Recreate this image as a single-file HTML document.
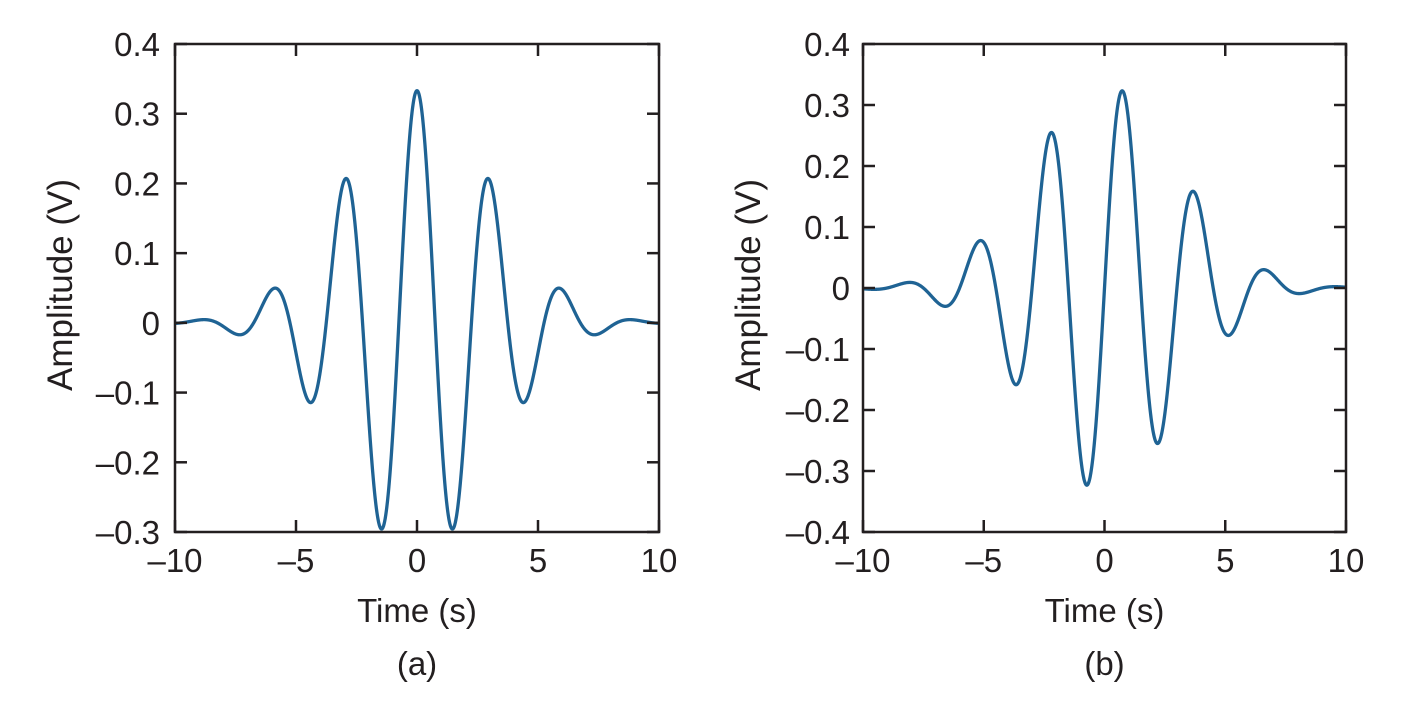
<!DOCTYPE html>
<html>
<head>
<meta charset="utf-8">
<style>
  html,body{margin:0;padding:0;background:#fff;}
  body{width:1403px;height:718px;overflow:hidden;}
  svg{display:block;}
  text{font-family:"Liberation Sans", Arial, sans-serif;fill:#231f20;}
</style>
</head>
<body>
<svg id="s" width="1403" height="718" viewBox="0 0 1403 718" xmlns="http://www.w3.org/2000/svg">
  <rect x="0" y="0" width="1403" height="718" fill="#fff"/>
  <g id="plots"></g>
</svg>
<script>
(function(){
  var NS="http://www.w3.org/2000/svg";
  var g=document.getElementById("plots");
  function el(tag,attrs,txt){
    var e=document.createElementNS(NS,tag);
    for(var k in attrs) e.setAttribute(k,attrs[k]);
    if(txt!==undefined) e.textContent=txt;
    g.appendChild(e); return e;
  }
  function fmt(v){
    if(Math.abs(v)<1e-9) return "0";
    var s=Math.abs(v).toFixed(1);
    return (v<0?"\u2013":"")+s;
  }
  function plot(o){
    var x0=o.x0,x1=o.x1,y0=o.y0,y1=o.y1;
    function X(t){return x0+(t+10)/20*(x1-x0);}
    function Y(v){return y0+(o.ymax-v)/(o.ymax-o.ymin)*(y1-y0);}
    var d="";
    for(var i=0;i<=2000;i++){
      var t=-10+20*i/2000;
      var v=o.f(t);
      d+=(i?"L":"M")+X(t).toFixed(2)+","+Y(v).toFixed(2);
    }
    el("path",{d:d,fill:"none",stroke:"#1f6394","stroke-width":"3.3","stroke-linejoin":"round"});
    var tl=12, col="#231f20", sw=2.5;
    [-10,-5,0,5,10].forEach(function(t){
      var x=X(t);
      el("line",{x1:x,y1:y1,x2:x,y2:y1-tl,stroke:col,"stroke-width":sw});
      el("line",{x1:x,y1:y0,x2:x,y2:y0+tl,stroke:col,"stroke-width":sw});
      el("text",{x:x,y:572,"font-size":"33","text-anchor":"middle"},(t<0?"\u2013":"")+Math.abs(t));
    });
    for(var k=Math.round(o.ymin*10);k<=Math.round(o.ymax*10);k++){
      var v=k/10, y=Y(v);
      el("line",{x1:x0,y1:y,x2:x0+tl,y2:y,stroke:col,"stroke-width":sw});
      el("line",{x1:x1,y1:y,x2:x1-tl,y2:y,stroke:col,"stroke-width":sw});
      el("text",{x:o.lx,y:y+12,"font-size":"33","text-anchor":"end"},fmt(v));
    }
    el("rect",{x:x0,y:y0,width:x1-x0,height:y1-y0,fill:"none",stroke:col,"stroke-width":sw});
    var cx=(x0+x1)/2;
    el("text",{x:cx,y:622,"font-size":"33","text-anchor":"middle"},"Time (s)");
    el("text",{x:cx,y:675,"font-size":"33","text-anchor":"middle"},o.tag);
    el("text",{x:0,y:0,"font-size":"35","text-anchor":"middle",transform:"translate("+o.yl+","+((y0+y1)/2-3)+") rotate(-90)"},"Amplitude (V)");
  }
  var s2=18.5, w=2*Math.PI/3;
  plot({x0:175,x1:659,y0:44,y1:532,ymin:-0.3,ymax:0.4,lx:160,yl:72,tag:"(a)",
        f:function(t){return 0.333*Math.exp(-t*t/s2)*Math.cos(w*t);}});
  plot({x0:863,x1:1346,y0:44,y1:532,ymin:-0.4,ymax:0.4,lx:850,yl:760,tag:"(b)",
        f:function(t){return 0.333*Math.exp(-t*t/s2)*Math.sin(w*t);}});
})();
</script>
</body>
</html>
